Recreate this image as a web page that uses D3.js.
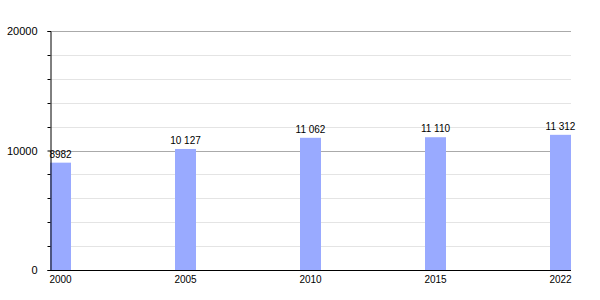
<!DOCTYPE html>
<html>
<head>
<meta charset="utf-8">
<script src="https://cdn.jsdelivr.net/npm/d3@7"></script>
<style>
  html, body { margin: 0; padding: 0; background: #fff; }
  svg { display: block; font-family: "Liberation Sans", Arial, sans-serif; }
</style>
</head>
<body>
<svg id="chart" width="600" height="300"></svg>
<script>
const years = ["2000", "2005", "2010", "2015", "2022"];
const population = [8982, 10127, 11062, 11110, 11312];
const yMajorTicks = [0, 10000, 20000];
const yMinorTicks = [2000, 4000, 6000, 8000, 12000, 14000, 16000, 18000];

(function () {
const svg = d3.select("#chart");
const mLeft = 50, mRight = 571, mTop = 31, mBottom = 270, barW = 21;

const x = d3.scalePoint().domain(years).range([mLeft, mRight - barW]);
const y = d3.scaleLinear().domain([0, 20000]).range([mBottom, mTop]);

// minor gridlines
svg.append("g").selectAll("line").data(yMinorTicks).join("line")
  .attr("x1", mLeft).attr("x2", mRight)
  .attr("y1", d => Math.round(y(d)) + 0.5).attr("y2", d => Math.round(y(d)) + 0.5)
  .attr("stroke", "#e4e4e4").attr("stroke-width", 1);

// major gridlines
svg.append("g").selectAll("line").data(yMajorTicks.filter(d => d > 0)).join("line")
  .attr("x1", mLeft).attr("x2", mRight)
  .attr("y1", d => Math.round(y(d)) + 0.5).attr("y2", d => Math.round(y(d)) + 0.5)
  .attr("stroke", "#aaaaaa").attr("stroke-width", 1);

// bars
svg.append("g").selectAll("rect").data(population).join("rect")
  .attr("x", (d, i) => x(years[i]))
  .attr("width", barW)
  .attr("y", d => y(d))
  .attr("height", d => mBottom - y(d))
  .attr("fill", "#99aaff");

// value labels
const fmt = v => v >= 10000 ? d3.format(",")(v).replace(/,/g, " ") : String(v);
svg.append("g").selectAll("text").data(population).join("text")
  .attr("x", (d, i) => x(years[i]) + barW / 2)
  .attr("y", d => y(d) - 5)
  .attr("text-anchor", "middle")
  .attr("font-size", 10)
  .attr("fill", "#000")
  .text(fmt);

// y axis
const yAxis = d3.axisLeft(y).tickValues(yMajorTicks).tickSize(3).tickPadding(10).tickFormat(d3.format("d"));
const gy = svg.append("g").attr("transform", `translate(${mLeft + 0.5},0)`).call(yAxis);
gy.select(".domain").attr("stroke", "#000");
gy.selectAll(".tick line").attr("stroke", "#000");
gy.selectAll("text").attr("font-size", 11).attr("fill", "#000").attr("font-family", "Liberation Sans, Arial, sans-serif");
// minor ticks
gy.append("g").selectAll("line").data(yMinorTicks).join("line")
  .attr("x1", -3).attr("x2", 0)
  .attr("y1", d => Math.round(y(d)) + 0.5).attr("y2", d => Math.round(y(d)) + 0.5)
  .attr("stroke", "#000");

// x axis line
svg.append("line")
  .attr("x1", mLeft).attr("x2", mRight)
  .attr("y1", mBottom + 0.5).attr("y2", mBottom + 0.5)
  .attr("stroke", "#000");

// x labels
svg.append("g").selectAll("text").data(years).join("text")
  .attr("x", d => x(d) + barW / 2)
  .attr("y", mBottom + 13)
  .attr("text-anchor", "middle")
  .attr("font-size", 10)
  .attr("fill", "#000")
  .text(d => d);
})();
</script>
</body>
</html>
